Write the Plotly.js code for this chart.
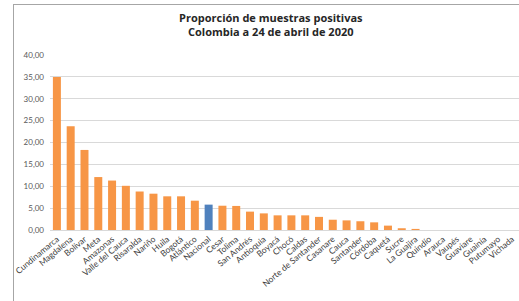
<!DOCTYPE html>
<html><head><meta charset="utf-8">
<script src="https://cdn.plot.ly/plotly-3.0.1.min.js"></script>
<style>html,body{margin:0;padding:0;background:#fff;overflow:hidden}#wrap{position:relative;width:519px;height:301px}#c{width:519px;height:301px}#frame{position:absolute;left:13px;top:4px;width:520px;height:310px;border-left:1px solid #a6a6a6;border-top:1px solid #a6a6a6;pointer-events:none}</style>
</head><body><div id="wrap"><div id="c"></div><div id="frame"></div></div>
<script>
const categories = ["Cundinamarca","Magdalena","Bolívar","Meta","Amazonas","Valle del Cauca","Risaralda","Nariño","Huila","Bogotá","Atlántico","Nacional","Cesar","Tolima","San Andrés","Antioquia","Boyacá","Chocó","Caldas","Norte de Santander","Casanare","Cauca","Santander","Córdoba","Caquetá","Sucre","La Guajira","Quindío","Arauca","Vaupés","Guaviare","Guainía","Putumayo","Vichada"];
const values = [35.0,23.7,18.3,12.1,11.3,10.1,8.8,8.3,7.7,7.7,6.7,5.8,5.55,5.5,4.2,3.8,3.35,3.35,3.35,3.0,2.35,2.2,2.0,1.75,1.0,0.4,0.25,0,0,0,0,0,0,0];
const highlight = "Nacional";
const yTicks = [0,5,10,15,20,25,30,35,40];
const titleLines = ["Proporción de muestras positivas", "Colombia a 24 de abril de 2020"];

const colors = categories.map(c => c === highlight ? "#4f81bd" : "#f79646");
const M = {l:50, r:0, t:55, b:71};
const W = 519, H = 301;

const trace = {
  type: "bar", x: categories, y: values,
  marker: {color: colors, line: {width: 0}},
  hoverinfo: "x+y"
};
const titleFont = {family: "'Open Sans', Lato, sans-serif", size: 11, color: "#262626"};
const layout = {
  width: W, height: H, margin: M,
  paper_bgcolor: "rgba(0,0,0,0)", plot_bgcolor: "rgba(0,0,0,0)",
  separators: ",.",
  bargap: 0.42,
  showlegend: false,
  font: {family: "Lato, 'Liberation Sans', sans-serif", color: "#595959"},
  annotations: titleLines.map((t, i) => ({
    text: "<b>" + t + "</b>", showarrow: false,
    xref: "paper", x: (271 - M.l) / (W - M.l - M.r), xanchor: "center",
    yref: "paper", y: (H - M.b - (17.5 + i * 14.5)) / (H - M.t - M.b), yanchor: "middle",
    font: titleFont
  })),
  xaxis: {
    type: "category", tickangle: -40, tickfont: {size: 8.5, color: "#404040"},
    showline: true, linecolor: "#d9d9d9", linewidth: 1,
    ticks: "", showgrid: false, automargin: false
  },
  yaxis: {
    range: [0, 40], tickvals: yTicks, tickformat: ".2f",
    tickfont: {size: 8, color: "#595959"},
    showgrid: true, gridcolor: "#d9d9d9", gridwidth: 1,
    zeroline: false, showline: false, ticks: "", ticklabelstandoff: 5, automargin: false
  }
};
Plotly.newPlot("c", [trace], layout, {displayModeBar: false, staticPlot: true});
</script></body></html>
